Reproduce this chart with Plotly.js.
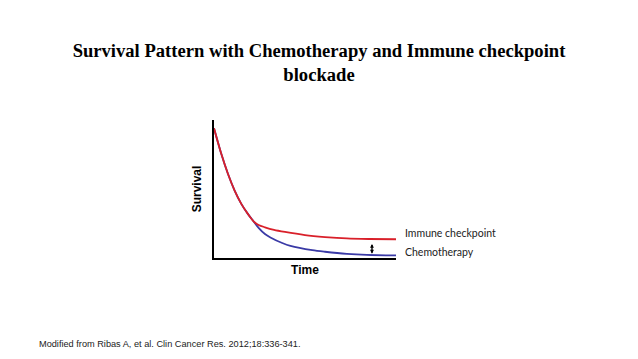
<!DOCTYPE html>
<html>
<head>
<meta charset="utf-8">
<script src="https://cdn.plot.ly/plotly-3.0.1.min.js"></script>
<style>html,body{margin:0;padding:0;background:#fff;}#chart{width:638px;height:359px;}</style>
</head>
<body>
<div id="chart"></div>
<script>
// Shared early part of both survival curves (time, survival %)
const timeShared = [0, 0.4, 0.77, 1.14, 1.5, 1.87, 2.16];
const survShared = [99.6, 80.0, 64.5, 51.6, 41.6, 33.7, 28.4];
// Immune checkpoint tail
const timeImmune = [2.45, 2.8, 3.3, 3.9, 5.0, 6.1, 7.3, 8.5, 10];
const survImmune = [25.4, 23.6, 21.6, 20.0, 17.6, 16.1, 15.0, 14.6, 14.4];
// Chemotherapy tail
const timeChemo = [2.45, 2.8, 3.1, 3.75, 4.2, 5.4, 6.1, 7.3, 8.4, 10];
const survChemo = [23.2, 18.4, 15.8, 11.5, 9.3, 6.0, 4.8, 3.2, 2.4, 2.0];

const seriesNames = ["Immune checkpoint", "Chemotherapy"];
const titleText = "Survival Pattern with Chemotherapy and Immune checkpoint<br>blockade";
const xTitle = "Time";
const yTitle = "Survival";
const sourceNote = "Modified from Ribas A, et al. Clin Cancer Res. 2012;18:336-341.";
// Gap marker (time, survival from, survival to)
const gapTime = 8.68;
const gapFrom = 3.3;
const gapTo = 12.0;

const traces = [
  {x: timeShared.concat(timeChemo), y: survShared.concat(survChemo), mode: 'lines',
   line: {color: '#3a3aa6', width: 1.8, shape: 'spline', smoothing: 0.8}, name: seriesNames[1], hoverinfo: 'skip'},
  {x: timeShared.concat(timeImmune), y: survShared.concat(survImmune), mode: 'lines',
   line: {color: '#d9202a', width: 1.8, shape: 'spline', smoothing: 0.8}, name: seriesNames[0], hoverinfo: 'skip'}
];

// plot area: x 214..396 px, y 120..258 px
const pl = 214, pw = 182, pt = 120, ph = 138;

const layout = {
  width: 638, height: 359,
  paper_bgcolor: '#fff', plot_bgcolor: '#fff',
  showlegend: false,
  margin: {l: pl, r: 638 - pl - pw, t: pt, b: 359 - pt - ph, pad: 0},
  title: {text: titleText, x: 0.5, xref: 'container', xanchor: 'center', y: 1 - 57/359, yref: 'container', yanchor: 'top',
          font: {family: 'Liberation Serif, Times New Roman, serif', size: 18.6, color: '#000', weight: 'bold'}},
  xaxis: {range: [0, 10], showgrid: false, zeroline: false, showticklabels: false, ticks: '',
          showline: true, linecolor: '#000', linewidth: 2,
          title: {text: '<b>' + xTitle + '</b>', standoff: 7, font: {family: 'Liberation Sans, Arial, sans-serif', size: 12, color: '#000'}}},
  yaxis: {range: [0, 106], showgrid: false, zeroline: false, showticklabels: false, ticks: '',
          showline: true, linecolor: '#000', linewidth: 2,
          title: {text: '<b>' + yTitle + '</b>', standoff: 8, font: {family: 'Liberation Sans, Arial, sans-serif', size: 12, color: '#000'}}},
  annotations: [
    {xref: 'paper', yref: 'y', x: 1, y: survImmune[survImmune.length-1] + 4.5, xshift: 7, xanchor: 'left', yanchor: 'middle',
     text: seriesNames[0], showarrow: false, font: {family: 'Lato, Open Sans, sans-serif', size: 10.5, color: '#222'}},
    {xref: 'paper', yref: 'y', x: 1, y: survChemo[survChemo.length-1] + 2.6, xshift: 7, xanchor: 'left', yanchor: 'middle',
     text: seriesNames[1], showarrow: false, font: {family: 'Lato, Open Sans, sans-serif', size: 10.5, color: '#222'}},
    {xref: 'x', yref: 'y', axref: 'x', ayref: 'y', x: gapTime, y: gapFrom, ax: gapTime, ay: gapTo, text: '',
     showarrow: true, arrowhead: 2, arrowside: 'end+start', arrowsize: 0.55, arrowwidth: 1.4, arrowcolor: '#000'},
    {xref: 'paper', yref: 'paper', x: (37 - pl) / pw, y: (pt + ph - 344) / ph, xanchor: 'left', yanchor: 'middle', text: sourceNote,
     showarrow: false, font: {family: 'Liberation Sans, Arial, sans-serif', size: 9.2, color: '#222'}}
  ]
};

Plotly.newPlot('chart', traces, layout, {staticPlot: true, displayModeBar: false});
</script>
</body>
</html>
